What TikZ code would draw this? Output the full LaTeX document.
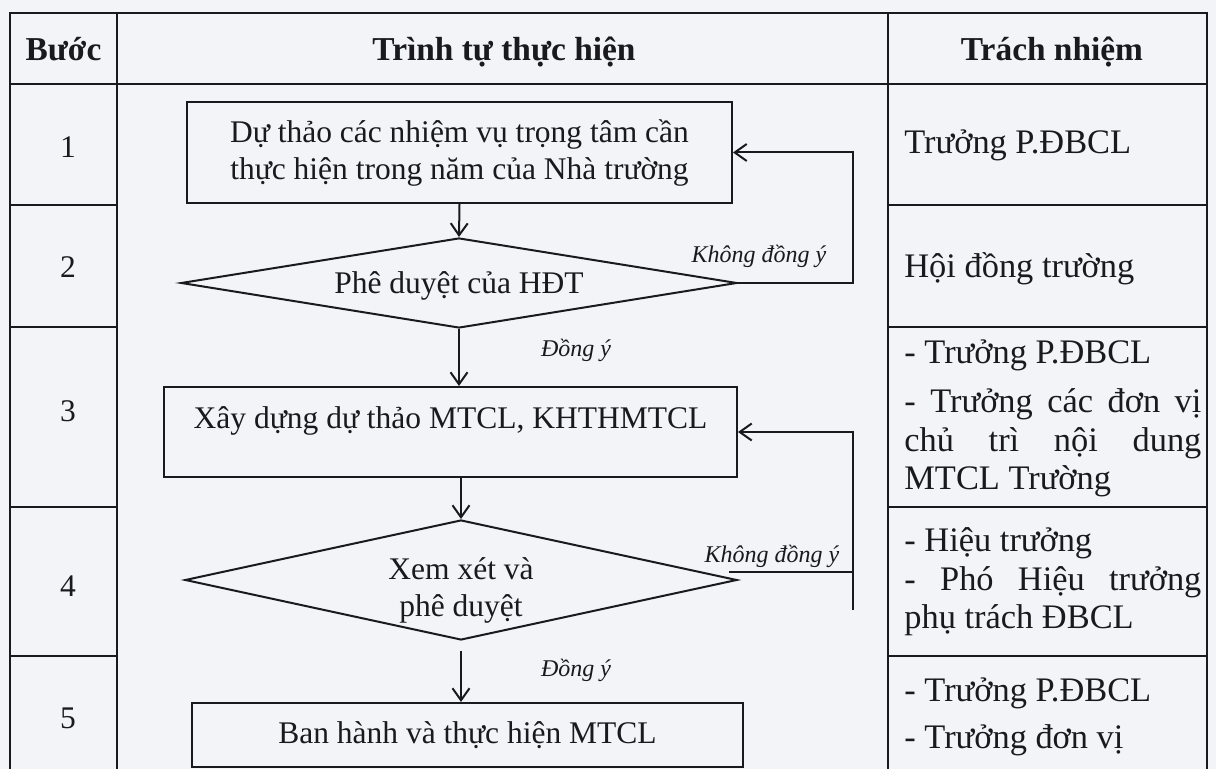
\documentclass[tikz,border=0pt]{standalone}
\usepackage{fontspec}
\setmainfont{Liberation Serif}
\usetikzlibrary{shapes.geometric,arrows.meta,calc}
\definecolor{bg}{RGB}{243,244,248}
\definecolor{ink}{RGB}{25,25,30}
\begin{document}
\begin{tikzpicture}[x=0.5pt,y=-0.5pt,
  every node/.style={text=ink},
  ln/.style={draw=ink,line width=1pt},
  body/.style={font=\fontsize{15.75pt}{18.5pt}\selectfont},
  rbody/.style={font=\fontsize{17.2pt}{20pt}\selectfont},
  hdr/.style={font=\fontsize{16.7pt}{19pt}\selectfont\bfseries, anchor=base, inner sep=0pt},
  num/.style={body, anchor=base, inner sep=0pt},
  resp/.style={rbody, anchor=base west, inner sep=0pt},
  lbl/.style={font=\fontsize{12pt}{14pt}\selectfont\itshape, anchor=base, inner sep=0pt},
  procbox/.style={ln, rectangle, body, align=center, inner sep=0pt},
  decision/.style={ln, diamond, body, align=center, inner sep=0pt},
  flow/.style={ln, -{Straight Barb[length=6pt,width=8.5pt,line width=1pt]}},
]
\fill[bg] (0,0) rectangle (1216,769);
\useasboundingbox (0,0) rectangle (1216,769);

% table
\draw[ln] (10,769) -- (10,13) -- (1207,13) -- (1207,769);
\draw[ln] (117,13) -- (117,769);
\draw[ln] (888,13) -- (888,769);
\draw[ln] (10,84) -- (1207,84);
\foreach \y in {205,327,507,656} {
  \draw[ln] (10,\y) -- (117,\y);
  \draw[ln] (888,\y) -- (1207,\y);
}

% headers
\node[hdr] (h1) at (63.5,61) {Bước};
\node[hdr] (h2) at (504,61) {Trình tự thực hiện};
\node[hdr] (h3) at (1052,61) {Trách nhiệm};

% step numbers
\node[num] (n1) at (68,158) {1};
\node[num] (n2) at (68,278) {2};
\node[num] (n3) at (68,422) {3};
\node[num] (n4) at (68,597) {4};
\node[num] (n5) at (68,728) {5};

% flowchart
\node[procbox, minimum width=272.5pt, minimum height=50.5pt] (b1) at (459.5,152.5)
  {Dự thảo các nhiệm vụ trọng tâm cần\\thực hiện trong năm của Nhà trường};
\node[decision, aspect=6.18, minimum width=278pt, minimum height=45pt] (d1) at (459,283)
  {\rule{0pt}{14pt}Phê duyệt của HĐT};
\node[procbox, minimum width=286.5pt, minimum height=45pt, text height=10pt, text depth=13pt] (b3) at (450.5,432)
  {Xây dựng dự thảo MTCL, KHTHMTCL};
\node[decision, aspect=4.6, minimum width=276pt, minimum height=60pt] (d2) at (461,580)
  {\rule{0pt}{21pt}Xem xét và\\phê duyệt};
\node[procbox, minimum width=275.5pt, minimum height=32pt] (b5) at (467.5,735)
  {Ban hành và thực hiện MTCL};

\draw[flow] (b1.south) -- (d1.north);
\draw[flow] (d1.south) -- (d1.south |- b3.north);
\node[lbl] (ok1) at (576,357) {Đồng ý};
\draw[flow] (b3.south -| d2.north) -- (d2.north);
\coordinate (g2) at ($(d2.south)+(0,10)$);
\draw[flow] (g2) -- (g2 |- b5.north);
\node[lbl] (ok2) at (576,677) {Đồng ý};

% loop 1
\coordinate (k1) at (853,283);
\draw[flow] (d1.east) -- (k1) |- (b1.east);
\node[lbl] (no1) at (759,263) {Không đồng ý};

% loop 2
\coordinate (s2) at (729,572);
\coordinate (k2) at (853,572);
\coordinate (e2) at (853,610);
\draw[ln] (s2) -- (k2);
\draw[flow] (e2) -- (e2 |- b3.east) -- (b3.east);
\node[lbl] (no2) at (772,563) {Không đồng ý};

% responsibilities
\node[resp] (r1) at (904,154) {Trưởng P.ĐBCL};
\node[resp] (r2) at (904,278) {Hội đồng trường};
\node[resp] (r3a) at (904,364) {- Trưởng P.ĐBCL};
\node[resp] (r3b) at (904,413) {\makebox[148.5pt][s]{- Trưởng các đơn vị}};
\node[resp] (r3c) at (904,452) {\makebox[148.5pt][s]{chủ trì nội dung}};
\node[resp] (r3d) at (904,490) {MTCL Trường};
\node[resp] (r4a) at (904,552) {- Hiệu trưởng};
\node[resp] (r4b) at (904,591) {\makebox[148.5pt][s]{- Phó Hiệu trưởng}};
\node[resp] (r4c) at (904,629) {phụ trách ĐBCL};
\node[resp] (r5a) at (904,702) {- Trưởng P.ĐBCL};
\node[resp] (r5b) at (904,748) {- Trưởng đơn vị};
\end{tikzpicture}
\end{document}
